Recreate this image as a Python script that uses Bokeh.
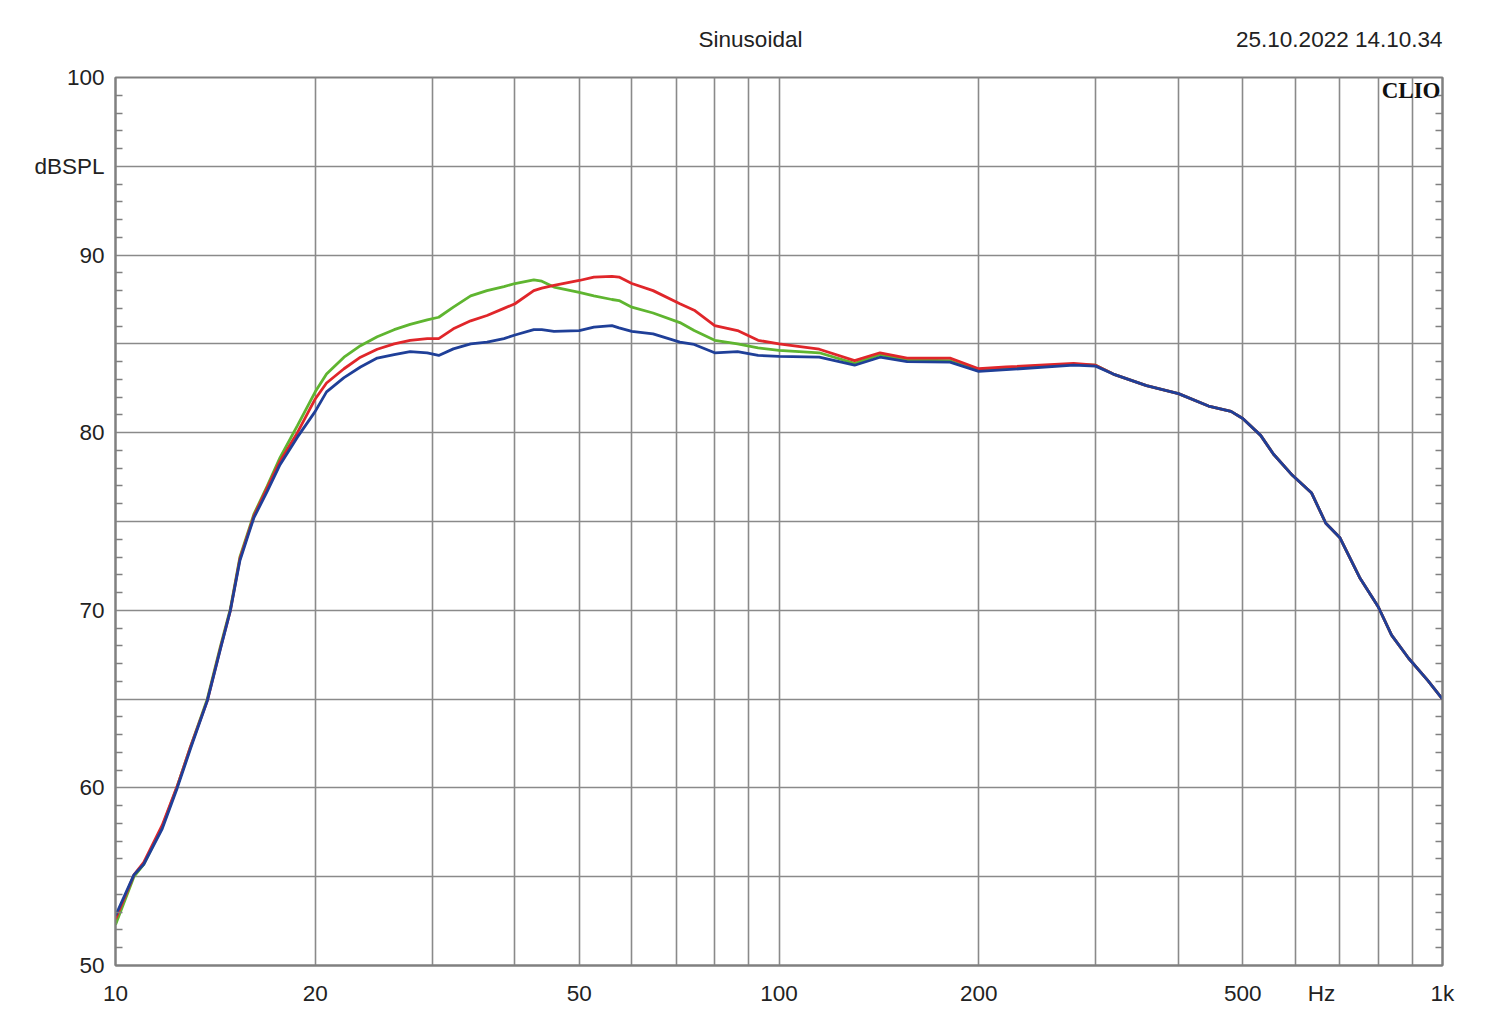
from bokeh.plotting import figure
from bokeh.models import (FixedTicker, LinearAxis, Label, Range1d)
from bokeh.layouts import column
from bokeh.embed import file_html
from bokeh.resources import INLINE

# ---- data ----
freq = [10, 10.66, 11.03, 11.76, 12.39, 12.97, 13.75, 14.4, 14.9, 15.4, 15.87, 16.16,
        16.93, 17.7, 18.8, 20, 20.8, 22.1, 23.4, 24.8, 26.3, 27.8, 29.5, 30.7, 32.3,
        34.3, 36.3, 38.5, 40, 42.7, 43.9, 45.8, 50, 52.6, 56, 57.4, 60, 64.6, 70.9,
        74.5, 80, 86.6, 93, 100, 115, 130, 142, 156, 181, 200, 220, 278, 300, 319,
        358, 400, 444, 480, 500, 532, 556, 594, 635, 667, 700, 750, 800, 838, 889,
        950, 1000]

blue = [52.8, 55.1, 55.7, 57.7, 60.0, 62.2, 64.9, 67.85, 70.0, 72.8, 74.3, 75.2,
        76.7, 78.2, 79.75, 81.2, 82.3, 83.1, 83.7, 84.2, 84.4, 84.57, 84.5, 84.35, 84.72,
        85.0, 85.1, 85.3, 85.5, 85.8, 85.8, 85.7, 85.75, 85.94, 86.03, 85.9, 85.7, 85.56, 85.1,
        84.97, 84.5, 84.57, 84.35, 84.3, 84.25, 83.8, 84.25, 84.0, 83.97, 83.45, 83.55, 83.8, 83.75, 83.3,
        82.65, 82.2, 81.5, 81.2, 80.8, 79.85, 78.8, 77.6, 76.6, 74.9, 74.1, 71.85, 70.2, 68.6, 67.3,
        66.05, 65.0]

red = [52.6, 55.1, 55.8, 57.9, 60.1, 62.3, 64.9, 67.9, 70.0, 72.9, 74.4, 75.3,
       76.9, 78.4, 80.0, 81.9, 82.8, 83.6, 84.25, 84.7, 85.0, 85.2, 85.3, 85.3, 85.85,
       86.3, 86.6, 87.0, 87.26, 88.0, 88.14, 88.3, 88.57, 88.76, 88.8, 88.76, 88.4, 88.0, 87.26,
       86.9, 86.03, 85.75, 85.2, 85.0, 84.7, 84.06, 84.5, 84.2, 84.2, 83.6, 83.7, 83.9, 83.8, 83.3,
       82.65, 82.2, 81.5, 81.2, 80.8, 79.85, 78.8, 77.6, 76.6, 74.9, 74.1, 71.85, 70.2, 68.6, 67.3,
       66.05, 65.0]

green = [52.3, 55.0, 55.7, 57.8, 60.1, 62.3, 65.0, 68.0, 70.1, 73.0, 74.5, 75.4,
         77.0, 78.6, 80.4, 82.3, 83.3, 84.25, 84.9, 85.4, 85.8, 86.1, 86.35, 86.5, 87.07,
         87.7, 88.0, 88.23, 88.4, 88.6, 88.53, 88.2, 87.9, 87.7, 87.5, 87.44, 87.07, 86.74, 86.2,
         85.75, 85.2, 85.0, 84.78, 84.63, 84.5, 83.9, 84.4, 84.1, 84.05, 83.5, 83.6, 83.85, 83.8, 83.3,
         82.65, 82.2, 81.5, 81.2, 80.8, 79.85, 78.8, 77.6, 76.6, 74.9, 74.1, 71.85, 70.2, 68.6, 67.3,
         66.05, 65.0]

x_ticks = [10, 20, 50, 100, 200, 500, 657, 1000]
x_tick_labels = ["10", "20", "50", "100", "200", "500", "Hz", "1k"]
x_grid = [20, 30, 40, 50, 60, 70, 80, 90, 100, 200, 300, 400, 500, 600, 700, 800, 900]
y_ticks = [50, 55, 60, 65, 70, 75, 80, 85, 90, 95, 100]
y_tick_labels = ["50", "", "60", "", "70", "", "80", "", "90", "dBSPL", "100"]
y_minor = [v for v in range(50, 101) if v % 5 != 0]

title_text = "Sinusoidal"
date_text = "25.10.2022 14.10.34"
brand_text = "CLIO"

FONT = "Liberation Sans"
FS = "22.5px"
GRID = "#8a8a8a"
TXT = "#222222"

HEADER_H = 52
FRAME_L, FRAME_R = 115, 1442

# ---- header strip holding the two top texts (its frame is aligned with the chart's) ----
h = figure(width=1500, height=HEADER_H, x_range=Range1d(FRAME_L, FRAME_R),
           y_range=Range1d(HEADER_H, 0),
           output_backend="svg", toolbar_location=None,
           min_border_left=FRAME_L, min_border_right=1500 - FRAME_R,
           min_border_top=0, min_border_bottom=0)
h.axis.visible = False
h.grid.visible = False
h.outline_line_color = None
h.background_fill_color = "white"
h.border_fill_color = "white"
h.add_layout(Label(x=750, y=39, text=title_text, text_font=FONT, text_font_size=FS,
                   text_color=TXT, text_align="center", text_baseline="middle"))
h.add_layout(Label(x=1442, y=39, text=date_text, text_font=FONT, text_font_size=FS,
                   text_color=TXT, text_align="right", text_baseline="middle"))

# ---- main chart ----
p = figure(width=1500, height=1028 - HEADER_H, x_axis_type="log",
           x_range=Range1d(10, 1000), y_range=Range1d(50, 100),
           output_backend="svg", toolbar_location=None,
           min_border_left=FRAME_L, min_border_right=1500 - FRAME_R,
           min_border_top=77 - HEADER_H, min_border_bottom=63)
p.background_fill_color = "white"
p.border_fill_color = "white"
p.outline_line_color = "#808080"
p.outline_line_width = 2

# grids
p.xgrid.ticker = FixedTicker(ticks=x_grid)
p.ygrid.ticker = FixedTicker(ticks=y_ticks)
for g in (p.xgrid, p.ygrid):
    g.grid_line_color = GRID
    g.grid_line_width = 1.6

# x axis
xa = p.xaxis[0]
xa.ticker = FixedTicker(ticks=x_ticks, minor_ticks=[])
xa.major_label_overrides = {t: l for t, l in zip(x_ticks, x_tick_labels)}
xa.major_tick_line_color = None
xa.minor_tick_line_color = None
xa.major_tick_out = 0
xa.major_tick_in = 0
xa.axis_line_color = "#808080"
xa.axis_line_width = 2
xa.major_label_standoff = 15
xa.major_label_text_font = FONT
xa.major_label_text_font_size = FS
xa.major_label_text_color = TXT

# y axis (left)
ya = p.yaxis[0]
ya.ticker = FixedTicker(ticks=y_ticks, minor_ticks=y_minor)
ya.major_label_overrides = {t: l for t, l in zip(y_ticks, y_tick_labels)}
ya.major_tick_line_color = None
ya.major_tick_out = 0
ya.major_tick_in = 0
ya.minor_tick_line_color = "#808080"
ya.minor_tick_line_width = 1.5
ya.minor_tick_in = 7
ya.minor_tick_out = 0
ya.axis_line_color = "#808080"
ya.axis_line_width = 2
ya.major_label_standoff = 11
ya.major_label_text_font = FONT
ya.major_label_text_font_size = FS
ya.major_label_text_color = TXT

# right axis with inner minor ticks only
ra = LinearAxis(ticker=FixedTicker(ticks=y_ticks, minor_ticks=y_minor))
ra.major_label_text_font_size = "0px"
ra.major_label_text_alpha = 0
ra.major_tick_line_color = None
ra.major_tick_in = 0
ra.major_tick_out = 0
ra.minor_tick_line_color = "#808080"
ra.minor_tick_line_width = 1.5
ra.minor_tick_in = 7
ra.minor_tick_out = 0
ra.axis_line_color = "#808080"
ra.axis_line_width = 2
ra.major_label_standoff = 0
p.add_layout(ra, "right")

# curves
p.line(freq, green, line_color="#5fb530", line_width=2.8)
p.line(freq, red, line_color="#e0262a", line_width=2.8)
p.line(freq, blue, line_color="#1f3f98", line_width=2.8)

# CLIO mark inside the frame (screen units: from frame bottom-left)
p.add_layout(Label(x=1440 - FRAME_L, y=888 - 13, x_units="screen", y_units="screen",
                   text=brand_text, text_font="Liberation Serif", text_font_style="bold",
                   text_font_size="23px", text_color="#111111",
                   text_align="right", text_baseline="middle"))

layout = column(h, p, spacing=0)
open("out.html", "w").write(file_html(layout, INLINE))
